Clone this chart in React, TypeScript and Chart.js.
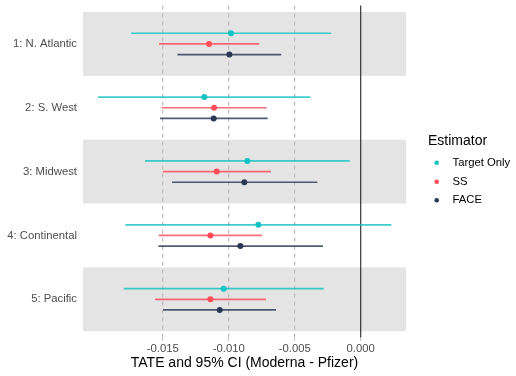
import React, { useEffect, useRef } from "react";
import { Chart, registerables } from "chart.js";

Chart.register(...registerables);

const regions = ["1: N. Atlantic", "2: S. West", "3: Midwest", "4: Continental", "5: Pacific"];
const estimators = ["Target Only", "SS", "FACE"];
const pointColors = ["#13C2C2", "#FF4C57", "#2B3855"];
const lineColors = ["rgba(19,194,194,0.82)", "rgba(255,76,87,0.82)", "rgba(43,56,85,0.82)"];
const offsets = [-0.167, 0, 0.167];

// estimates per estimator, per region
const targetEst = [-0.00983, -0.01185, -0.00859, -0.00776, -0.01038];
const targetLo = [-0.0174, -0.0199, -0.01634, -0.01783, -0.01795];
const targetHi = [-0.00223, -0.00382, -0.00083, 0.00232, -0.0028];

const ssEst = [-0.01149, -0.01111, -0.01091, -0.01139, -0.01139];
const ssLo = [-0.01528, -0.01508, -0.01498, -0.0153, -0.01558];
const ssHi = [-0.00768, -0.00712, -0.0068, -0.00748, -0.00717];

const faceEst = [-0.00995, -0.01114, -0.00882, -0.00912, -0.01068];
const faceLo = [-0.01389, -0.01521, -0.0143, -0.01533, -0.01498];
const faceHi = [-0.00602, -0.00705, -0.00329, -0.00286, -0.00642];

const xTicks = [-0.015, -0.01, -0.005, 0];
const dashedRefs = [-0.015, -0.01, -0.005];
const zeroRef = 0;
const xTitle = "TATE and 95% CI (Moderna - Pfizer)";
const legendTitle = "Estimator";

const FONT = "'Liberation Sans', Arial, Helvetica, sans-serif";

export default function App() {
  const ref = useRef<HTMLCanvasElement | null>(null);

  useEffect(() => {
    if (!ref.current) return;
    const est = [targetEst, ssEst, faceEst];
    const lo = [targetLo, ssLo, faceLo];
    const hi = [targetHi, ssHi, faceHi];

    const datasets: any[] = [];
    for (let e = 0; e < 3; e++) {
      for (let r = 0; r < regions.length; r++) {
        const y = r + 1 + offsets[e];
        datasets.push({
          type: "line",
          data: [
            { x: lo[e][r], y },
            { x: hi[e][r], y },
          ],
          borderColor: lineColors[e],
          borderWidth: 1.7,
          pointRadius: 0,
          fill: false,
          order: 2,
        });
      }
    }
    for (let e = 0; e < 3; e++) {
      datasets.push({
        type: "scatter",
        label: estimators[e],
        data: est[e].map((v, r) => ({ x: v, y: r + 1 + offsets[e] })),
        backgroundColor: pointColors[e],
        borderColor: pointColors[e],
        pointRadius: 3,
        borderWidth: 0,
        order: 1,
      });
    }

    const bgPlugin = {
      id: "bg",
      beforeDatasetsDraw(chart: any) {
        const { ctx, chartArea, scales } = chart;
        const xs = scales.x;
        const ys = scales.y;
        ctx.save();
        ctx.fillStyle = "#E4E4E4";
        for (let r = 1; r <= regions.length; r += 2) {
          const t = ys.getPixelForValue(r - 0.5);
          const b = ys.getPixelForValue(r + 0.5);
          ctx.fillRect(chartArea.left, t, chartArea.right - chartArea.left, b - t);
        }
        ctx.strokeStyle = "#B5B5B5";
        ctx.lineWidth = 1.1;
        ctx.setLineDash([4, 4]);
        for (const v of dashedRefs) {
          const px = xs.getPixelForValue(v);
          ctx.beginPath();
          ctx.moveTo(px, chartArea.top);
          ctx.lineTo(px, chartArea.bottom);
          ctx.stroke();
        }
        ctx.setLineDash([]);
        ctx.strokeStyle = "#222222";
        ctx.lineWidth = 1.1;
        const zx = xs.getPixelForValue(zeroRef);
        ctx.beginPath();
        ctx.moveTo(zx, chartArea.top);
        ctx.lineTo(zx, chartArea.bottom);
        ctx.stroke();
        ctx.restore();
      },
      afterDraw(chart: any) {
        const { ctx } = chart;
        ctx.save();
        ctx.fillStyle = "#000000";
        ctx.font = `14px ${FONT}`;
        ctx.textAlign = "left";
        ctx.textBaseline = "middle";
        ctx.fillText(legendTitle, 428, 141);
        ctx.font = `11.3px ${FONT}`;
        const ys = [162.7, 181.7, 200.3];
        for (let e = 0; e < 3; e++) {
          ctx.fillStyle = pointColors[e];
          ctx.beginPath();
          ctx.arc(436.7, ys[e], 2.3, 0, Math.PI * 2);
          ctx.fill();
          ctx.fillStyle = "#000000";
          ctx.fillText(estimators[e], 452.5, ys[e]);
        }
        ctx.restore();
      },
    };

    const chart = new Chart(ref.current, {
      type: "scatter",
      data: { datasets },
      options: {
        animation: false,
        responsive: true,
        maintainAspectRatio: false,
        layout: { padding: { top: 5.6, right: 110, left: 0, bottom: 0 } },
        plugins: { legend: { display: false }, tooltip: { enabled: false } },
        scales: {
          x: {
            type: "linear",
            min: -0.02104,
            max: 0.00343,
            afterBuildTicks: (s: any) => {
              s.ticks = xTicks.map((v) => ({ value: v }));
            },
            afterFit: (s: any) => {
              s.height = 38.4;
              s.paddingLeft = 0;
              s.paddingRight = 0;
            },
            grid: { display: true, drawOnChartArea: false, drawTicks: true, tickLength: 3, tickColor: "#BBBBBB", color: "#BBBBBB" },
            border: { display: false },
            ticks: {
              color: "#4D4D4D",
              font: { family: FONT, size: 11.3 },
              padding: 2,
              maxRotation: 0,
              callback: (v: any) => Number(v).toFixed(3),
            },
            title: {
              display: true,
              text: xTitle,
              color: "#000000",
              font: { family: FONT, size: 14 },
              padding: { top: 0, bottom: 4 },
            },
          },
          y: {
            type: "linear",
            min: 0.4,
            max: 5.6,
            reverse: true,
            afterBuildTicks: (s: any) => {
              s.ticks = regions.map((_, i) => ({ value: i + 1 }));
            },
            afterFit: (s: any) => {
              s.width = 83;
              s.paddingTop = 0;
              s.paddingBottom = 0;
            },
            grid: { display: false, drawTicks: false, tickLength: 0 },
            border: { display: false },
            ticks: {
              color: "#4D4D4D",
              font: { family: FONT, size: 11.3 },
              padding: 6,
              callback: (v: any) => regions[Math.round(Number(v)) - 1] ?? "",
            },
          },
        },
      },
      plugins: [bgPlugin],
    });
    return () => chart.destroy();
  }, []);

  return (
    <div style={{ position: "fixed", left: 0, top: 0, width: 516, height: 376, background: "#ffffff" }}>
      <canvas ref={ref} />
    </div>
  );
}
